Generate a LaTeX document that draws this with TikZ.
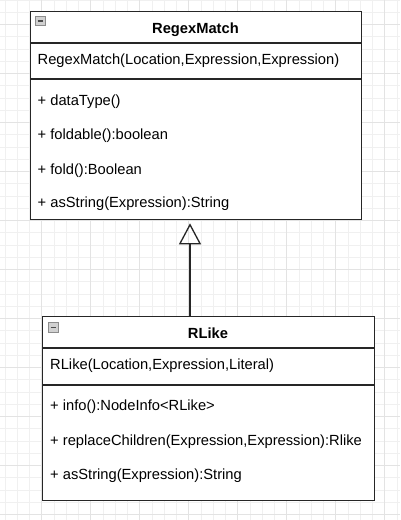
\documentclass[tikz,border=0pt]{standalone}
\usepackage{fontspec}
\setmainfont{Liberation Sans}
\usetikzlibrary{arrows.meta}

\tikzset{
  classbox/.style={draw=black!85, line width=1.3pt, fill=white, inner sep=0pt, anchor=north west},
  member/.style={anchor=west, inner sep=0pt, text height=11pt, text depth=3pt,
    font=\fontsize{14.7}{17}\selectfont},
  classname/.style={member, anchor=center, font=\fontsize{14.7}{17}\selectfont\bfseries},
  toggle/.style={draw=black!45, fill=black!18, line width=.7pt, minimum size=9.5pt, inner sep=0pt},
  minorline/.style={black!6, line width=.8pt},
  majorline/.style={black!11, line width=1pt},
  inherit/.style={line width=1.3pt, draw=black!85, shorten >=3pt,
    -{Triangle[open, length=21pt, width=22pt, line width=1.3pt]}}
}

\begin{document}
\begin{tikzpicture}[x=1pt, y=-1pt]
	\useasboundingbox (0,0) rectangle (400,520);
	\fill[white] (0,0) rectangle (400,520);
	\foreach \g in {0,...,32} \draw[minorline] ({4.95+12.25*\g},0) -- ++(0,520);
	\foreach \g in {0,...,42} \draw[minorline] (0,{0.05+12.25*\g}) -- ++(400,0);
	\foreach \g in {0,...,8} \draw[majorline] ({-7.3+49*\g},0) -- ++(0,520);
	\foreach \g in {0,...,10} \draw[majorline] (0,{24.3+49*\g}) -- ++(400,0);

	% RegexMatch
	\node[classbox, minimum width=331pt, minimum height=208pt] (regex) at (30,11) {};
	\draw[line width=1.3pt, black!85] ([yshift=-32pt]regex.north west) -- ([yshift=-32pt]regex.north east);
	\draw[line width=1.3pt, black!85] ([yshift=-68pt]regex.north west) -- ([yshift=-68pt]regex.north east);
	\node[toggle] (regexToggle) at (40.5,21) {};
	\draw[line width=1.2pt, black!70] ([xshift=-2.8pt]regexToggle.center) -- ([xshift=2.8pt]regexToggle.center);
	\node[classname] (regexTitle) at (195.5,29) {RegexMatch};
	\node[member] (regexCtor) at (37.5,60) {RegexMatch(Location,Expression,Expression)};
	\node[member] (regexM1) at (37.5,101) {+ dataType()};
	\node[member] (regexM2) at (37.5,135) {+ foldable():boolean};
	\node[member] (regexM3) at (37.5,170) {+ fold():Boolean};
	\node[member] (regexM4) at (37.5,203) {+ asString(Expression):String};

	% RLike
	\node[classbox, minimum width=332pt, minimum height=184pt] (rlike) at (42,316) {};
	\draw[line width=1.3pt, black!85] ([yshift=-32pt]rlike.north west) -- ([yshift=-32pt]rlike.north east);
	\draw[line width=1.3pt, black!85] ([yshift=-69pt]rlike.north west) -- ([yshift=-69pt]rlike.north east);
	\node[toggle] (rlikeToggle) at (53.3,327.5) {};
	\draw[line width=1.2pt, black!70] ([xshift=-2.8pt]rlikeToggle.center) -- ([xshift=2.8pt]rlikeToggle.center);
	\node[classname] (rlikeTitle) at (208,334) {RLike};
	\node[member] (rlikeCtor) at (50,365) {RLike(Location,Expression,Literal)};
	\node[member] (rlikeM1) at (50,406) {+ info():NodeInfo<RLike>};
	\node[member] (rlikeM2) at (50,441) {+ replaceChildren(Expression,Expression):Rlike};
	\node[member] (rlikeM3) at (50,475) {+ asString(Expression):String};

	\draw[inherit] (rlike.north -| 190,0) -- (regex.south -| 190,0);
\end{tikzpicture}
\end{document}
